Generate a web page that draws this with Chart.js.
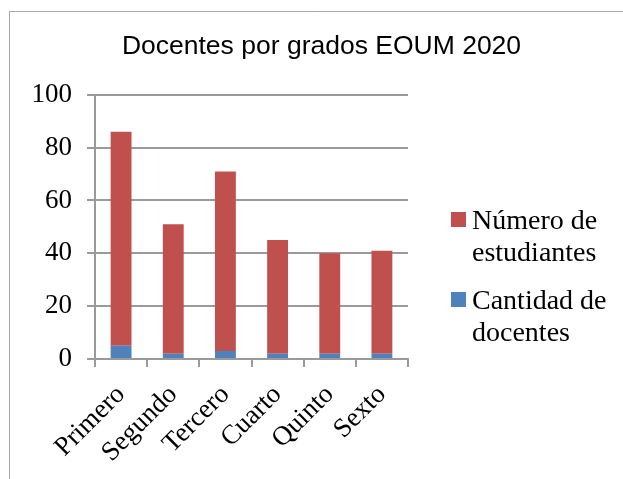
<!DOCTYPE html>
<html>
<head>
<meta charset="utf-8">
<script src="https://cdn.jsdelivr.net/npm/chart.js@4/dist/chart.umd.min.js"></script>
<style>
  html, body { margin: 0; padding: 0; background: #fff; }
  canvas { display: block; }
</style>
</head>
<body>
<canvas id="chart" width="623" height="479"></canvas>
<script>
// datos
const grados = ['Primero', 'Segundo', 'Tercero', 'Cuarto', 'Quinto', 'Sexto'];
const docentes = [5, 2, 3, 2, 2, 2];
const estudiantes = [81, 49, 68, 43, 38, 39];
const yTicks = [0, 20, 40, 60, 80, 100];
const titulo = 'Docentes por grados EOUM 2020';

const serif = "'Liberation Serif', 'Times New Roman', serif";
const gris = '#9a9a9a';

// marco gris (arriba e izquierda) + leyenda a la derecha
const marcoYLeyenda = {
  id: 'marcoYLeyenda',
  beforeDraw(chart) {
    const ctx = chart.ctx;
    ctx.save();
    ctx.strokeStyle = '#a8a8a8';
    ctx.lineWidth = 1;
    ctx.beginPath();
    ctx.moveTo(9.5, chart.height);
    ctx.lineTo(9.5, 11.5);
    ctx.lineTo(chart.width, 11.5);
    ctx.stroke();
    ctx.restore();
  },
  afterDraw(chart) {
    const ctx = chart.ctx;
    const x0 = chart.chartArea.right + 43;
    let y = 212;
    ctx.save();
    ctx.font = '28px ' + serif;
    ctx.textBaseline = 'alphabetic';
    const ds = chart.data.datasets.slice().reverse();
    ds.forEach(d => {
      const cut = d.label.lastIndexOf(' ');
      const lines = [d.label.slice(0, cut), d.label.slice(cut + 1)];
      ctx.fillStyle = d.backgroundColor;
      ctx.fillRect(x0, y, 15, 15);
      ctx.fillStyle = '#000';
      lines.forEach((t, i) => ctx.fillText(t, x0 + 21, y + 17 + i * 32));
      y += 80;
    });
    ctx.restore();
  }
};

new Chart(document.getElementById('chart'), {
  type: 'bar',
  data: {
    labels: grados,
    datasets: [
      { label: 'Cantidad de docentes', data: docentes, backgroundColor: '#4F81BD' },
      { label: 'Número de estudiantes', data: estudiantes, backgroundColor: '#C0504D' }
    ]
  },
  options: {
    responsive: false,
    animation: false,
    devicePixelRatio: 1,
    layout: { padding: { left: 20, top: 0, right: 0, bottom: 0 } },
    datasets: { bar: { barPercentage: 0.4, categoryPercentage: 1, borderWidth: 0 } },
    scales: {
      x: {
        stacked: true,
        grid: { drawOnChartArea: false, drawTicks: true, tickLength: 8, color: gris, lineWidth: 2 },
        border: { display: true, color: gris, width: 2 },
        ticks: {
          font: { family: serif, size: 27 },
          color: '#000',
          minRotation: 45,
          maxRotation: 45,
          padding: 12
        },
        afterFit: s => { s.height = 120; }
      },
      y: {
        stacked: true,
        min: 0,
        max: 100,
        afterBuildTicks: s => { s.ticks = yTicks.map(v => ({ value: v })); },
        grid: { color: gris, lineWidth: 2, tickLength: 8 },
        border: { display: true, color: gris, width: 2 },
        ticks: { font: { family: serif, size: 27 }, color: '#000', padding: 15 },
        afterFit: s => { s.width = 75; }
      },
      hueco: {
        type: 'linear',
        position: 'right',
        display: true,
        grid: { display: false },
        border: { display: false },
        ticks: { display: false },
        afterFit: s => { s.width = 215; }
      }
    },
    plugins: {
      legend: { display: false },
      tooltip: { enabled: false },
      title: {
        display: true,
        text: titulo,
        color: '#000',
        font: { family: "'Liberation Sans', Arial, sans-serif", size: 26.5, weight: 'normal' },
        padding: { top: 31, bottom: 32 }
      }
    }
  },
  plugins: [marcoYLeyenda]
});
</script>
</body>
</html>
